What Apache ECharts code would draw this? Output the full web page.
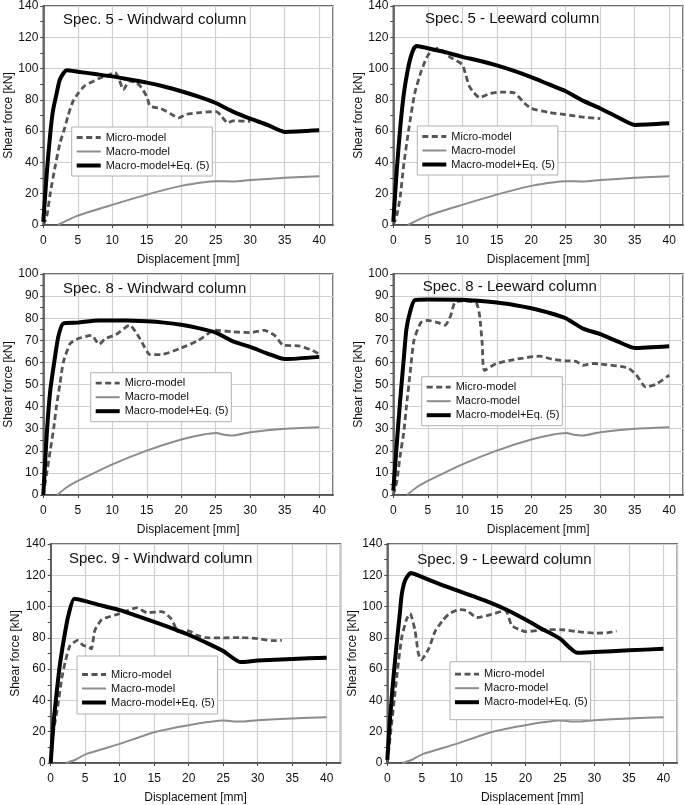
<!DOCTYPE html>
<html><head><meta charset="utf-8">
<script src="https://cdn.jsdelivr.net/npm/echarts@6/dist/echarts.min.js"></script>
<style>html,body{margin:0;padding:0;background:#fff}#c{width:685px;height:805px}</style>
</head><body><div id="c"></div>
<script>
// ---------- DATA ----------
const titles = ['Spec. 5 - Windward column','Spec. 5 - Leeward column','Spec. 8 - Windward column','Spec. 8 - Leeward column','Spec. 9 - Windward column','Spec. 9 - Leeward column'];
const seriesNames = ['Micro-model','Macro-model','Macro-model+Eq. (5)'];
const xAxisName = 'Displacement [mm]';
const yAxisName = 'Shear force [kN]';
const yMaxes = [140,140,100,100,140,140];
const yIntervals = [20,20,10,10,20,20];

// Spec. 5
const spec5W_micro = [[0,0],[0.5,5.5],[1,20],[1.7,37],[2.4,52],[3.1,62],[3.6,70],[4.3,79],[5.1,84.5],[6,89],[8,93.5],[9.5,96],[10.4,97.5],[11,93],[11.6,86.5],[12.5,92],[13.5,91],[14.2,88],[15,82],[15.5,76],[17,74.5],[18.5,71],[19.6,68.5],[20.8,70.8],[22.7,71.9],[25.1,72.5],[25.8,69.8],[26.7,65.3],[27.5,66.6],[30,66.2]];
const spec5W_eq = [[0,2],[0.5,33],[1,58],[1.4,73],[1.9,83.5],[2.4,93],[3,97.5],[3.4,99],[5,98],[7.5,96.5],[10,95],[12.5,93],[15,91],[17.5,88.5],[20,85.5],[22.5,82],[25,78],[27.5,72.5],[30,68],[32.5,64],[35,59.5],[40,60.5]];
const spec5L_micro = [[0,0],[0.5,6],[1,18],[1.5,38],[2.2,60],[3.1,84],[4.1,99],[5.1,109],[6.5,113],[8,108],[10,102.5],[10.5,96],[11.1,88],[12.5,81.5],[14,84],[15.5,85],[17.5,84.5],[19,78],[20,74.5],[22.5,72],[25,70.5],[27.5,69],[30,68]];
const spec5L_eq = [[0,2],[0.5,35],[1,62],[1.5,83],[2,97],[2.5,107],[3,113],[3.4,114.5],[5,113],[7.5,110.5],[10,107.5],[12.5,105],[15,102],[17.5,98.5],[20,94.5],[22.5,90],[25,85.5],[27.5,79.5],[30,74.5],[32.5,69],[35,64],[40,65]];
const spec5_macro = [[2.1,0],[4.9,5.8],[10.1,13],[15,19.4],[20,25],[25.1,28],[27.5,27.8],[30,28.7],[35,30.2],[40,31.2]];

// Spec. 8
const spec8W_micro = [[0,0],[0.5,10],[1,20],[1.5,30],[1.9,40],[2.4,50],[2.9,60],[3.9,68.5],[5.1,70.8],[7,72.2],[8.1,68.2],[9,70.8],[10.5,72.5],[12.5,76.8],[14,70.8],[15.5,63.5],[17,63.5],[20,66.5],[22.5,70],[24.9,74.6],[27.5,73.8],[30,73.5],[32,74.5],[33.5,72.3],[34.8,67.8],[37,67.5],[39,65.5],[40,63.7]];
const spec8W_eq = [[0,0],[0.5,27.5],[1,47],[1.7,62.5],[2.2,72],[2.9,77.6],[5,78],[8,79],[12,79],[15,78.6],[17.5,78],[20,77],[22.5,75.5],[25,73.5],[27.5,69.5],[30,67],[32.5,64],[35,61.5],[40,62.5]];
const spec8L_micro = [[0,0],[0.5,6],[1,18],[1.5,28],[1.9,40],[2.5,57],[3,70],[4,78],[5,79],[6.5,78],[7.5,76.8],[8.3,81],[8.9,87],[10,87.8],[12,87],[12.5,81.5],[12.9,68],[13.2,56.4],[14.9,59.4],[17.5,61.3],[21.2,62.8],[23,61.5],[25,60.7],[26.5,60.5],[27.5,58.7],[29,59.5],[30,59.3],[34,57.5],[35.2,54.5],[36.6,48.9],[38,50],[40,54.2]];
const spec8L_eq = [[0,2],[0.5,23],[1,43],[1.5,61],[1.9,75],[2.4,82.5],[3.1,88.2],[5,88.5],[10,88.3],[15,87.1],[17.5,86],[20,84.5],[22.5,82.5],[25,80],[27.5,75.3],[30,72.8],[32.5,69.5],[35,66.5],[40,67.3]];
const spec8_macro = [[2,0],[3.4,3.5],[5.3,6.8],[10.1,14],[15,20.1],[20,25.1],[23.2,27.4],[25.1,28.1],[26,27.4],[27.5,26.9],[30,28.4],[35,30],[40,30.7]];

// Spec. 9
const spec9W_micro = [[0,0],[0.4,20],[1,35.7],[1.6,54],[2.1,64.5],[2.8,75],[3.9,78.4],[4.7,75.2],[5.5,74.2],[5.9,73],[6.4,84.8],[7.4,91.7],[8.5,93.5],[10,95.5],[12.5,99.2],[14,96],[16.1,96.8],[17.5,92],[18.5,84],[20,84.5],[21,82],[22.5,80.1],[25,80],[27.5,80.2],[30,79.5],[32,78.2],[33.5,78.4]];
const spec9W_eq = [[0,0],[0.4,25],[0.9,46.5],[1.35,63.5],[2.1,84],[2.6,95],[3.4,105],[5,103.5],[7.5,100.5],[10,97.7],[12.5,94],[15,90.2],[17.5,86.3],[20,82],[22.5,77],[25,71.6],[27.5,64.5],[30,65.5],[35,66.5],[40,67.3]];
const spec9L_micro = [[0,0],[0.5,20],[1,40],[1.5,60],[2.1,80.5],[2.8,92],[3.3,95.5],[4,85],[4.5,70],[4.9,66],[6,73],[6.9,84],[8,91],[9,95.5],[10.5,98],[11.5,97.5],[13,93],[15.1,95],[17.1,97.5],[18,88],[19,85.5],[20,84],[22.5,85],[25,85.3],[27.5,84],[30,83],[32,83.3],[33.2,84.4]];
const spec9L_eq = [[0,2],[0.4,29],[0.9,55],[1.35,76],[1.8,95],[2.1,108],[2.6,117],[3.4,121.5],[5,119],[7.5,114.5],[10,110.5],[12.5,106.5],[15,102.4],[17.5,97.5],[20,91.7],[22.5,85.5],[25,79.5],[27.5,70.5],[30,71],[35,72],[40,73]];
const spec9_macro = [[2.2,0],[3.5,1.9],[5.2,5.8],[10,12.2],[15,19.7],[20,24.2],[25,27.1],[26.5,26.6],[27.5,26.5],[30,27.4],[35,28.5],[40,29.3]];

const microData = [spec5W_micro, spec5L_micro, spec8W_micro, spec8L_micro, spec9W_micro, spec9L_micro];
const macroData = [spec5_macro, spec5_macro, spec8_macro, spec8_macro, spec9_macro, spec9_macro];
const eqData = [spec5W_eq, spec5L_eq, spec8W_eq, spec8L_eq, spec9W_eq, spec9L_eq];

// ---------- LAYOUT ----------
const FONT = '"Liberation Sans", Arial, Helvetica, sans-serif';
const grids = [
  {left:43.3, top:4, width:289.7, height:221},
  {left:393.3, top:4, width:289.7, height:221},
  {left:43.3, top:274, width:289.7, height:221},
  {left:393.3, top:274, width:289.7, height:221},
  {left:50.7, top:544, width:289.8, height:219},
  {left:387.3, top:544, width:290, height:219}
];
const titlePos = [[63,12.5],[425,11.5],[63,281.5],[422.7,279],[69,551.5],[417.3,552.5]];
const legendPos = [[71.7,127,[5,3,5,3]],[417.3,126,[5,3,5,3]],[90.7,372.7,[5,3,5,3]],[421.7,376.7,[5,3,5,3]],[77,656,[13,3,6,3]],[450,661.7,[7,3,12,3]]];

const styles = [
  {color:'#555555', width:2.8, type:[6,3.5]},
  {color:'#8c8c8c', width:2, type:'solid'},
  {color:'#000000', width:4, type:'solid'}
];

const option = {
  animation:false,
  backgroundColor:'#fff',
  textStyle:{fontFamily:FONT},
  title: titles.map((t,i)=>({text:t, left:titlePos[i][0], top:titlePos[i][1], padding:0,
    textStyle:{fontSize:15, fontWeight:'normal', color:'#111', fontFamily:FONT}})),
  grid: grids.map(g=>Object.assign({show:true, borderColor:'#444', borderWidth:1.5, backgroundColor:'#fff', containLabel:false}, g)),
  xAxis: grids.map((g,i)=>({
    gridIndex:i, type:'value', min:0, max:42, interval:5,
    name:xAxisName, nameLocation:'middle', nameGap:29,
    nameTextStyle:{fontSize:12, color:'#111', fontFamily:FONT},
    axisLine:{show:true, onZero:false, lineStyle:{color:'#444', width:1.5}},
    axisTick:{show:true, length:3, lineStyle:{color:'#444'}},
    axisLabel:{fontSize:12, color:'#111', margin:10, showMaxLabel:false, fontFamily:FONT},
    splitLine:{show:true, lineStyle:{color:'#cfcfcf', width:1.2}}
  })),
  yAxis: grids.map((g,i)=>({
    gridIndex:i, type:'value', min:0, max:yMaxes[i], interval:yIntervals[i],
    name:yAxisName, nameLocation:'middle', nameGap:28,
    nameTextStyle:{fontSize:12, color:'#111', fontFamily:FONT},
    axisLine:{show:true, onZero:false, lineStyle:{color:'#444', width:1.5}},
    axisTick:{show:true, length:3, lineStyle:{color:'#444'}},
    minorTick:{show:true, splitNumber:2, length:3, lineStyle:{color:'#444'}},
    axisLabel:{fontSize:12, color:'#111', margin:5, fontFamily:FONT},
    splitLine:{show:true, lineStyle:{color:'#cfcfcf', width:1.2}}
  })),
  legend: grids.map((g,i)=>({
    show:true,
    left:legendPos[i][0], top:legendPos[i][1], padding:legendPos[i][2],
    orient:'vertical', itemGap:3, itemWidth:24, itemHeight:10, selectedMode:false,
    backgroundColor:'#fff', borderColor:'#b0b0b0', borderWidth:1, z:10,
    textStyle:{fontSize:11, color:'#111', fontFamily:FONT},
    lineStyle:{width:'inherit'},
    itemStyle:{color:'rgba(0,0,0,0)', borderWidth:0, opacity:0},
    data: seriesNames.slice()
  })),
  series: []
};

const sets = [microData, macroData, eqData];
grids.forEach((g,i)=>{
  sets.forEach((set,k)=>{
    option.series.push({
      type:'line', name:seriesNames[k], xAxisIndex:i, yAxisIndex:i,
      data:set[i], symbol:'none', smooth:0.2, z:2+k,
      lineStyle:{color:styles[k].color, width:styles[k].width, type:styles[k].type, cap:'butt', join:'round'},
      itemStyle:{color:styles[k].color}
    });
  });
});

const chart = echarts.init(document.getElementById('c'), null, {renderer:'canvas'});
chart.setOption(option);
</script></body></html>
